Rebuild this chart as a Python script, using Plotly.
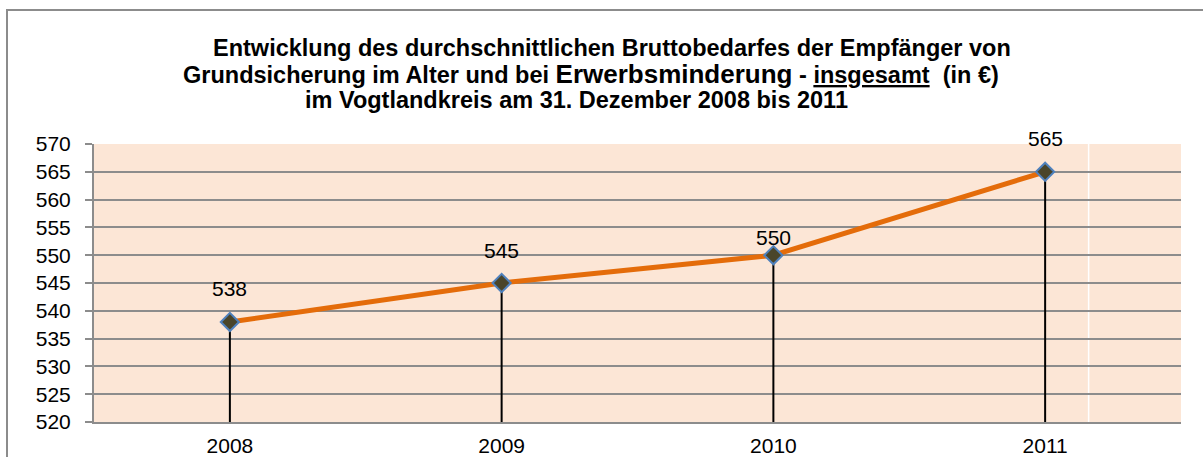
import plotly.graph_objects as go

# Durchschnittlicher Bruttobedarf (in €) je Stichtag 31.12.
years = ["2008", "2009", "2010", "2011"]
values = [538, 545, 550, 565]
y_ticks = [520, 525, 530, 535, 540, 545, 550, 555, 560, 565, 570]
y_min, y_max = 520, 570

# Abstand der Wertbeschriftung über dem Punkt (px)
label_shift = [33, 33, 18, 33]

W, H = 1203, 457
L, R, T, B = 94, 22, 144, 35
PW, PH = W - L - R, H - T - B


def px_x(p):
    return (p - L) / PW


def px_y(p):
    return (H - B - p) / PH


FONT = "Liberation Sans, Arial, sans-serif"

fig = go.Figure()

# senkrechte Fallinien von der Achse bis zum Datenpunkt
drop_x, drop_y = [], []
for i, v in enumerate(values):
    drop_x += [i, i, None]
    drop_y += [y_min, v, None]
fig.add_trace(go.Scatter(
    x=drop_x, y=drop_y, mode="lines",
    line=dict(color="#000000", width=2),
    hoverinfo="skip", showlegend=False,
))

fig.add_trace(go.Scatter(
    x=list(range(len(years))), y=values, mode="lines+markers",
    line=dict(color="#E46C0A", width=5),
    marker=dict(symbol="diamond", size=14, color="#4A452A",
                line=dict(color="#4F81BD", width=2)),
    showlegend=False,
))

annotations = []
for i, v in enumerate(values):
    annotations.append(dict(
        x=i, y=v, xref="x", yref="y", text=str(v), showarrow=False,
        yshift=label_shift[i], font=dict(family=FONT, size=21, color="#000000"),
    ))

title_lines = [
    ("<b>Entwicklung des durchschnittlichen Bruttobedarfes der Empfänger von</b>", 612, 48),
    ("<b>Grundsicherung im Alter und bei <span style='font-size:26px'>Erwerbsminderung</span>"
     " - <u>insgesamt</u>  (in €)</b>", 591, 74),
    ("<b>im Vogtlandkreis am 31. Dezember 2008 bis 2011</b>", 576, 100),
]
for txt, cx, cy in title_lines:
    annotations.append(dict(
        x=px_x(cx), y=px_y(cy), xref="paper", yref="paper", text=txt,
        showarrow=False, xanchor="center", yanchor="middle", borderpad=0,
        font=dict(family=FONT, size=23.5, color="#000000"),
    ))

shapes = [
    # Rahmen des Diagrammbereichs
    dict(type="rect", xref="paper", yref="paper",
         x0=px_x(7), x1=px_x(1260), y0=px_y(520), y1=px_y(10),
         line=dict(color="#8C8C8C", width=2), fillcolor="rgba(0,0,0,0)"),
    # helle Trennlinie rechts im Zeichenbereich
    dict(type="line", xref="x", yref="paper", x0=3.16, x1=3.16, y0=0, y1=1,
         line=dict(color="#FFFFFF", width=1.5), layer="below"),
]

fig.update_layout(
    width=W, height=H,
    margin=dict(l=L, r=R, t=T, b=B, pad=0),
    paper_bgcolor="#FFFFFF",
    plot_bgcolor="#FCE6D6",
    font=dict(family=FONT, size=21, color="#000000"),
    annotations=annotations,
    shapes=shapes,
    showlegend=False,
)

fig.update_xaxes(
    tickmode="array", tickvals=list(range(len(years))), ticktext=years,
    range=[-0.5, 3.5], showgrid=False, automargin=False,
    showline=True, linecolor="#8C8C8C", linewidth=2,
    ticks="outside", ticklen=4, tickcolor="rgba(0,0,0,0)",
    tickfont=dict(family=FONT, size=21, color="#000000"),
    zeroline=False, fixedrange=True,
)

fig.update_yaxes(
    range=[y_min, y_max], tickvals=y_ticks,
    ticktext=[str(t) for t in y_ticks], automargin=False,
    showgrid=True, gridcolor="#8C8C8C", gridwidth=2,
    showline=True, linecolor="#8C8C8C", linewidth=2,
    ticks="outside", ticklen=7, tickcolor="#8C8C8C", tickwidth=2,
    ticklabelstandoff=10,
    tickfont=dict(family=FONT, size=21, color="#000000"),
    zeroline=False, fixedrange=True,
)

fig.write_html("out.html")
